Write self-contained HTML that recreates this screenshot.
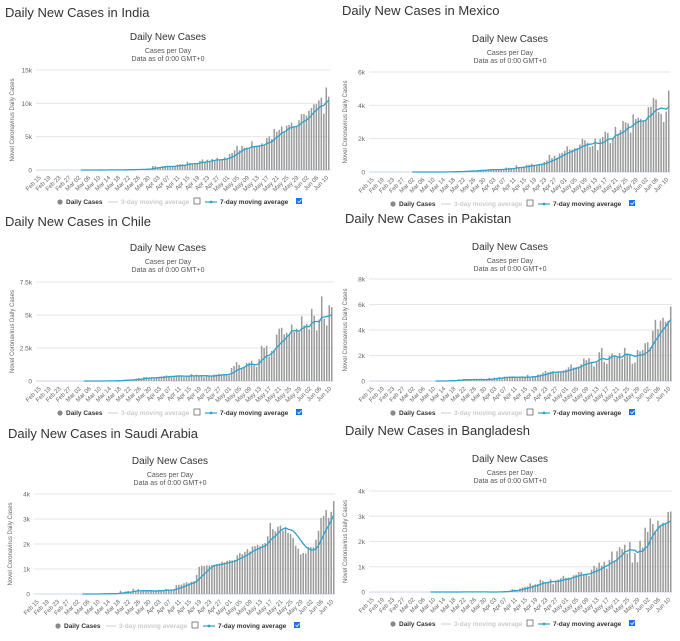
<!DOCTYPE html>
<html><head><meta charset="utf-8"><style>
html,body{margin:0;padding:0;background:#fff;width:680px;height:641px;overflow:hidden;font-family:"Liberation Sans",sans-serif}
svg{position:absolute;left:0;top:0}
</style></head><body>
<svg id="c" width="680" height="641"></svg>
<script>
const dates=[];(function(){const m=['Feb','Mar','Apr','May','Jun'],n=[[15,29],[1,31],[1,30],[1,31],[1,10]];m.forEach((mm,i)=>{for(let d=n[i][0];d<=n[i][1];d++)dates.push(mm+' '+(d<10?'0'+d:d));});})();
const Z15=[0,0,0,0,0,0,0,0,0,0,0,0,0,0,0];
const indiaValues=Z15.concat([0,1,0,23,2,1,3,5,9,15,6,13,9,20,11,6,23,14,38,50,86,66,103,37,121,70,160,100,227,146,601],[545,424,486,560,579,609,484,573,565,813,871,854,758,1243,1031,886,1061,922,1371,1580,1239,1537,1292,1667,1408,1835,1607,1568,1902,1705],[2396,2564,2952,3656,2971,3602,3344,3339,3175,4311,3592,3562,3726,3991,3808,4794,5050,4628,6154,5720,6025,6536,5788,6654,6767,7113,6387,6566,7466,8380,8392],[8171,8909,9304,9851,9887,10438,10864,8442,12375,11000]);
const mexicoValues=Z15.concat([1,0,0,0,0,0,0,0,0,0,4,0,0,14,9,29,11,26,46,39,48,65,51,52,103,71,121,137,144,105,160],[178,163,127,150,159,157,269,255,220,238,400,261,250,333,444,426,495,433,455,472,508,600,690,1032,832,973,846,1118,1154,1274],[1540,1349,1348,1433,1434,1646,1982,1906,1760,1500,1562,1997,1305,1982,2100,2409,2347,1732,2051,2713,2297,2516,3059,2979,2919,2358,3455,3176,3255,3176,3092],[3152,3891,3912,4442,4346,3593,3484,2999,3629,4883]);
const chileValues=Z15.concat([0,0,1,0,3,1,2,6,3,4,3,10,10,18,13,61,45,37,104,92,103,95,114,176,220,164,304,299,196,279,177],[293,310,339,373,424,356,341,301,426,430,426,286,312,358,529,355,481,362,391,286,391,364,377,494,482,552,496,534,484,442],[985,1138,1427,1228,980,1032,1373,1391,1533,1197,1059,1658,2660,2502,2659,1836,2278,2353,3520,3965,4038,3536,3659,3502,4276,3709,3964,3695,4895,4220,4328],[3913,5471,4942,3836,4664,6405,4696,4207,5737,5596]);
const pakistanValues=Z15.concat([0,0,0,0,0,0,0,0,0,3,0,0,0,8,34,83,54,60,120,97,163,148,84,107,121,112,76,172,108,124,240],[183,258,246,316,211,341,341,343,296,265,229,254,365,265,490,271,386,334,514,520,642,793,683,743,781,605,717,695,821,902],[1083,1297,1049,1083,1137,1315,1764,1637,1791,1476,1140,1452,2255,2603,1497,1352,1974,2164,1932,1841,2193,1743,2603,2164,2076,1356,1446,2429,2329,2429,2964],[3039,2636,3938,4801,4065,4734,4960,4646,4728,5834]);
const saudiValues=Z15.concat([0,0,1,0,0,0,4,4,5,3,5,24,17,17,15,39,0,133,67,103,119,51,205,133,200,92,112,99,96,154,110],[157,165,140,138,206,138,148,190,355,364,382,429,472,435,493,518,762,1088,1132,1122,1147,1141,1158,1172,1197,1223,1289,1266,1325,1351],[1344,1362,1552,1645,1595,1687,1793,1701,1905,1912,1966,1911,1993,2039,2307,2840,2593,2509,2691,2736,2532,2642,2442,2399,2235,1931,1815,1581,1644,1618,1881],[1877,1869,2171,2532,3045,3121,3366,3045,3288,3717]);
const bangladeshValues=Z15.concat([0,0,0,0,0,0,0,3,0,0,0,0,0,0,0,2,2,4,3,1,4,3,6,6,6,5,0,0,0,0,0],[2,2,5,9,18,35,41,54,112,94,58,139,182,209,219,341,266,306,312,492,434,390,414,503,309,418,497,549,641,564],[571,552,665,688,786,790,706,709,636,887,1034,969,1162,1041,1202,930,1273,1602,1251,1617,1773,1694,1873,1532,1975,1166,1541,1182,2029,1764,2545],[2381,2911,2695,2423,2828,2635,2743,2735,3171,3190]);
const indiaTicks=[0,5000,10000,15000],indiaTickLabels=['0','5k','10k','15k'];
const mexicoTicks=[0,2000,4000,6000],mexicoTickLabels=['0','2k','4k','6k'];
const chileTicks=[0,2500,5000,7500],chileTickLabels=['0','2.5k','5k','7.5k'];
const pakistanTicks=[0,2000,4000,6000,8000],pakistanTickLabels=['0','2k','4k','6k','8k'];
const saudiTicks=[0,1000,2000,3000,4000],saudiTickLabels=['0','1k','2k','3k','4k'];
const bangladeshTicks=[0,1000,2000,3000,4000],bangladeshTickLabels=['0','1k','2k','3k','4k'];

const panels=[
 {key:'india',name:'India',hx:5,hy:17,cx:168,ty:40,x0:40,x1:330,y0:70,y1:170,v:indiaValues,t:indiaTicks,tl:indiaTickLabels},
 {key:'mexico',name:'Mexico',hx:342,hy:15,cx:510,ty:42,x0:373,x1:670,y0:72,y1:172,v:mexicoValues,t:mexicoTicks,tl:mexicoTickLabels},
 {key:'chile',name:'Chile',hx:5,hy:226,cx:168,ty:251,x0:40,x1:333,y0:282,y1:381,v:chileValues,t:chileTicks,tl:chileTickLabels},
 {key:'pakistan',name:'Pakistan',hx:345,hy:223,cx:510,ty:250,x0:373,x1:672,y0:279,y1:381,v:pakistanValues,t:pakistanTicks,tl:pakistanTickLabels},
 {key:'saudi',name:'Saudi Arabia',hx:8,hy:438,cx:170,ty:464,x0:38,x1:335,y0:494,y1:594,v:saudiValues,t:saudiTicks,tl:saudiTickLabels},
 {key:'bangladesh',name:'Bangladesh',hx:345,hy:435,cx:510,ty:462,x0:373,x1:672,y0:491,y1:592,v:bangladeshValues,t:bangladeshTicks,tl:bangladeshTickLabels}
];
const NS='http://www.w3.org/2000/svg',svg=document.getElementById('c');
function mk(tag,attrs,parent,text){const e=document.createElementNS(NS,tag);for(const k in attrs)e.setAttribute(k,attrs[k]);if(text!==undefined)e.textContent=text;(parent||svg).appendChild(e);return e;}
panels.forEach(p=>{
 const g=mk('g',{});
 
 
 const h=mk('text',{x:p.hx,y:p.hy,'font-size':13,fill:'#333'},g,'Daily New Cases in '+p.name);
 
 
 const ct=mk('text',{x:p.cx,y:p.ty,'font-size':10,fill:'#333','text-anchor':'middle'},g,'Daily New Cases');
 
 
 const s1=mk('text',{x:p.cx,y:p.ty+13,'font-size':7,fill:'#555','text-anchor':'middle'},g,'Cases per Day');
 
 
 const s2=mk('text',{x:p.cx,y:p.ty+21,'font-size':7,fill:'#555','text-anchor':'middle'},g,'Data as of 0:00 GMT+0');
 
 
 const max=p.t[p.t.length-1],n=dates.length,step=(p.x1-p.x0)/n;
 const ys=v=>p.y1-v/max*(p.y1-p.y0), xs=i=>p.x0+(i+0.5)*step;
 p.t.forEach((t,i)=>{
  const gl=mk('line',{x1:p.x0-4,x2:p.x1,y1:ys(t),y2:ys(t),stroke:i?'#e6e6e6':'#ccd6eb','stroke-width':1},g);
  
  
  const tl=mk('text',{x:p.x0-8,y:ys(t)+2.5,'font-size':6.5,fill:'#666','text-anchor':'end'},g,p.tl[i]);
  
  
 });
 const yc=(p.y0+p.y1)/2,yx=p.x0-26;
 const yt=mk('text',{x:yx,y:yc,'font-size':6,fill:'#666','text-anchor':'middle',transform:`rotate(-90 ${yx} ${yc})`},g,'Novel Coronavirus Daily Cases');
 
 
 p.v.forEach((v,i)=>{
  if(v<=0)return;
  const b=mk('rect',{x:xs(i)-step*0.3,y:ys(v),width:step*0.6,height:p.y1-ys(v),fill:'#9a9a9a'},g);
  
  
 });
 dates.forEach((d,i)=>{
  if(i%4)return;
  const x=xs(i),y=p.y1+8;
  const l=mk('text',{x:x,y:y,'font-size':6,fill:'#666','text-anchor':'end',transform:`rotate(-45 ${x} ${y})`},g,d);
  
  
 });
 let first=p.v.findIndex(v=>v>0);const pts=[];
 for(let i=Math.max(first,0);i<n;i++){let s=0,c=0;for(let j=Math.max(0,i-6);j<=i;j++){s+=p.v[j];c++;}pts.push(xs(i).toFixed(1)+','+ys(s/c).toFixed(1));}
 const ln=mk('polyline',{points:pts.join(' '),fill:'none',stroke:'#2aa3cf','stroke-width':1.3},g);
 
 
 const ly=p.y1+34,lx=p.x0+20;
 const lg=mk('g',{},g);
 
 
 mk('circle',{cx:lx,cy:ly-2,r:2.6,fill:'#888'},lg);
 const e1=mk('text',{x:lx+6,y:ly,'font-size':6.5,'font-weight':'bold',fill:'#333'},lg,'Daily Cases');
 
 
 mk('line',{x1:lx+48,x2:lx+58,y1:ly-2,y2:ly-2,stroke:'#ccc','stroke-width':1},lg);
 const e2=mk('text',{x:lx+61,y:ly,'font-size':6.5,'font-weight':'bold',fill:'#ccc'},lg,'3-day moving average');
 
 
 const cb1=mk('rect',{x:lx+134,y:ly-6,width:6,height:6,fill:'#fff',stroke:'#555','stroke-width':0.7},lg);
 
 
 mk('line',{x1:lx+145,x2:lx+157,y1:ly-2,y2:ly-2,stroke:'#2aa3cf','stroke-width':1.2},lg);
 mk('circle',{cx:lx+151,cy:ly-2,r:1.4,fill:'#2aa3cf'},lg);
 const e3=mk('text',{x:lx+160,y:ly,'font-size':6.5,'font-weight':'bold',fill:'#333'},lg,'7-day moving average');
 
 
 const cb2=mk('rect',{x:lx+236,y:ly-6,width:6,height:6,fill:'#1a73e8'},lg);
 
 
 mk('path',{d:`M${lx+237.5} ${ly-3} l1.5 1.5 l2.5 -3`,stroke:'#fff','stroke-width':0.8,fill:'none'},lg);
});
</script>
</body></html>
